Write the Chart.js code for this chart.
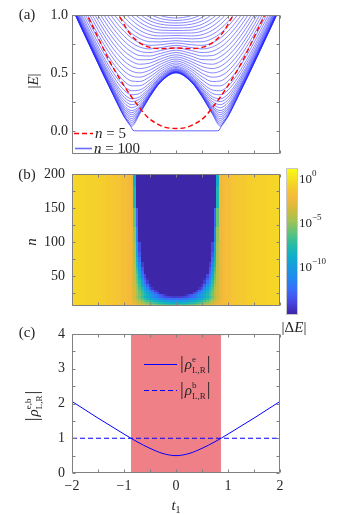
<!DOCTYPE html>
<html>
<head>
<meta charset="utf-8">
<script src="https://cdn.jsdelivr.net/npm/chart.js@4.4.1/dist/chart.umd.min.js"></script>
<style>
  body { margin: 0; background: #fff; width: 357px; height: 515px; overflow: hidden; position: relative; }
  canvas { position: absolute; }
</style>
</head>
<body>
<canvas id="chartA" width="357" height="165" style="left:0;top:0"></canvas>
<canvas id="chartB" width="357" height="160" style="left:0;top:160px"></canvas>
<canvas id="chartC" width="357" height="195" style="left:0;top:320px"></canvas>
<canvas id="chartBar" width="77" height="175" style="left:280px;top:160px"></canvas>
<script>
const SERIF = '"Liberation Serif", "DejaVu Serif", serif';
const TXT = '#262626';
const FRAME = '#808080';
const F15 = '15px ' + SERIF, I15 = 'italic 15px ' + SERIF, F9 = '9px ' + SERIF, B19 = '19px ' + SERIF;

// shared t1 axis
const t1Ticks = [-2, -1.5, -1, -0.5, 0, 0.5, 1, 1.5, 2];

// (a) spectrum |E|, curves symmetric in t1 (values for t1 >= 0)
const eTicks = [0, 0.25, 0.5, 0.75, 1];
const bandT = [0, 0.3, 0.5, 0.7, 0.85, 1.0, 1.2, 1.4, 1.6, 1.8, 2.0];
const bandE = [
  [0.501, 0.418, 0.295, 0.145, 0.041, 0.124, 0.303, 0.488, 0.678, 0.870, 1.062],
  [0.501, 0.419, 0.297, 0.150, 0.057, 0.131, 0.306, 0.490, 0.680, 0.871, 1.064],
  [0.502, 0.421, 0.299, 0.156, 0.073, 0.140, 0.310, 0.493, 0.683, 0.874, 1.066],
  [0.504, 0.422, 0.302, 0.163, 0.090, 0.150, 0.316, 0.497, 0.686, 0.877, 1.069],
  [0.506, 0.425, 0.306, 0.172, 0.106, 0.162, 0.323, 0.502, 0.690, 0.880, 1.072],
  [0.507, 0.427, 0.311, 0.181, 0.123, 0.175, 0.331, 0.508, 0.695, 0.884, 1.076],
  [0.510, 0.431, 0.316, 0.192, 0.140, 0.189, 0.340, 0.515, 0.700, 0.889, 1.080],
  [0.512, 0.434, 0.322, 0.203, 0.157, 0.204, 0.349, 0.522, 0.707, 0.894, 1.085],
  [0.515, 0.438, 0.328, 0.215, 0.175, 0.219, 0.360, 0.530, 0.713, 0.900, 1.090],
  [0.520, 0.444, 0.338, 0.234, 0.200, 0.243, 0.377, 0.544, 0.725, 0.911, 1.100],
  [0.525, 0.452, 0.350, 0.253, 0.226, 0.267, 0.396, 0.559, 0.738, 0.922, 1.110],
  [0.531, 0.460, 0.362, 0.274, 0.252, 0.292, 0.416, 0.575, 0.752, 0.934, 1.121],
  [0.537, 0.468, 0.375, 0.294, 0.277, 0.317, 0.437, 0.593, 0.767, 0.948, 1.134],
  [0.547, 0.481, 0.394, 0.323, 0.312, 0.351, 0.466, 0.618, 0.789, 0.968, 1.152],
  [0.557, 0.494, 0.414, 0.352, 0.346, 0.386, 0.497, 0.645, 0.813, 0.990, 1.173],
  [0.571, 0.513, 0.440, 0.389, 0.388, 0.429, 0.537, 0.680, 0.845, 1.019, 1.200],
  [0.586, 0.532, 0.467, 0.426, 0.430, 0.473, 0.578, 0.717, 0.879, 1.051, 1.230],
  [0.603, 0.553, 0.496, 0.463, 0.473, 0.516, 0.620, 0.756, 0.915, 1.085, 1.262],
  [0.620, 0.575, 0.525, 0.500, 0.515, 0.560, 0.662, 0.797, 0.952, 1.120, 1.296],
  [0.638, 0.597, 0.555, 0.538, 0.556, 0.604, 0.705, 0.838, 0.991, 1.157, 1.331],
  [0.656, 0.620, 0.585, 0.575, 0.598, 0.647, 0.749, 0.880, 1.032, 1.196, 1.368],
  [0.676, 0.644, 0.615, 0.613, 0.639, 0.690, 0.792, 0.922, 1.073, 1.235, 1.407],
  [0.696, 0.668, 0.646, 0.650, 0.680, 0.733, 0.836, 0.965, 1.115, 1.276, 1.446],
  [0.716, 0.693, 0.676, 0.687, 0.720, 0.776, 0.879, 1.009, 1.157, 1.317, 1.486],
  [0.737, 0.718, 0.707, 0.724, 0.760, 0.818, 0.923, 1.052, 1.200, 1.360, 1.528],
  [0.758, 0.743, 0.738, 0.760, 0.800, 0.860, 0.966, 1.096, 1.243, 1.402, 1.570],
  [0.779, 0.768, 0.769, 0.797, 0.840, 0.902, 1.009, 1.139, 1.287, 1.445, 1.612],
  [0.801, 0.794, 0.800, 0.832, 0.879, 0.943, 1.052, 1.183, 1.330, 1.489, 1.655],
  [0.823, 0.819, 0.830, 0.868, 0.917, 0.984, 1.095, 1.226, 1.374, 1.532, 1.698],
  [0.844, 0.845, 0.860, 0.903, 0.956, 1.024, 1.137, 1.270, 1.417, 1.576, 1.742],
  [0.866, 0.870, 0.891, 0.938, 0.993, 1.064, 1.179, 1.313, 1.461, 1.619, 1.785],
  [0.888, 0.895, 0.920, 0.973, 1.031, 1.103, 1.220, 1.355, 1.504, 1.663, 1.829],
  [0.910, 0.921, 0.950, 1.007, 1.067, 1.142, 1.261, 1.398, 1.547, 1.706, 1.873],
  [0.931, 0.945, 0.979, 1.040, 1.104, 1.181, 1.302, 1.439, 1.590, 1.749, 1.916],
  [0.953, 0.970, 1.008, 1.073, 1.139, 1.219, 1.342, 1.481, 1.632, 1.792, 1.960],
  [0.974, 0.995, 1.037, 1.106, 1.175, 1.256, 1.381, 1.522, 1.674, 1.835, 2.003],
  [0.996, 1.019, 1.065, 1.138, 1.209, 1.293, 1.420, 1.562, 1.715, 1.877, 2.045]
];
const edgeT = [0, 0.8, 0.83, 0.86, 0.9, 1.0, 1.2, 1.4, 1.6, 1.8, 2.0];
const edgeE = [0, 0, 0.005, 0.03, 0.065, 0.122, 0.302, 0.487, 0.677, 0.869, 1.062];
const n5OuterT = [0, 0.2, 0.4, 0.55, 0.7, 0.85, 1.0, 1.15, 1.3, 1.45, 1.6, 1.75];
const n5OuterE = [0.02, 0.03, 0.07, 0.12, 0.2, 0.29, 0.39, 0.5, 0.62, 0.76, 0.9, 1.04];
const n5InnerT = [0, 0.25, 0.5, 0.7, 0.85, 0.95, 1.05, 1.15, 1.25];
const n5InnerE = [0.715, 0.71, 0.72, 0.76, 0.82, 0.88, 0.96, 1.03, 1.1];

// (b) log10|dE| map, rows of n, columns |t1| (mirrored)
const nTicks = [25, 50, 75, 100, 125, 150, 175, 200];
const D = -15.4;
const heatN = [7, 10, 13, 16, 19, 22, 25, 28, 32, 36, 42, 45, 50, 55, 60, 67, 75, 82, 90, 110, 135, 165, 200];
const heatInnerT = [0, 0.05, 0.1, 0.15, 0.2, 0.25, 0.3, 0.35, 0.4, 0.45, 0.5, 0.55, 0.6, 0.65, 0.7, 0.75, 0.8, 0.85];
const heatOuterT = [0.9, 1.0, 1.1, 1.2, 1.3, 1.4, 1.5, 1.6, 1.7, 1.8, 1.9, 2.0];
const heatOuterLog = [-2.2, -1.8, -1.5, -1.25, -1.05, -0.9, -0.8, -0.7, -0.65, -0.6, -0.55, -0.5];
const heatRows = [
  [-7, -7, -6.9, -6.8, -6.6, -6.4, -6.2, -5.9, -5.6, -5.2, -4.8, -4.4, -3.9, -3.5, -3.1, -2.7, -2.3, -2.1],
  [-8.8, -8.8, -8.7, -8.6, -8.4, -8.1, -7.8, -7.5, -7.1, -6.6, -6.1, -5.6, -5, -4.4, -3.8, -3.2, -2.7, -2.3],
  [-10.5, -10.5, -10.4, -10.2, -10, -9.7, -9.4, -9, -8.5, -8, -7.4, -6.8, -6.1, -5.4, -4.6, -3.8, -3.1, -2.5],
  [-12.5, -12.5, -12.4, -12.2, -12, -11.7, -11.3, -10.8, -10.2, -9.6, -8.9, -8.1, -7.2, -6.3, -5.3, -4.3, -3.4, -2.6],
  [-14.5, -14.5, -14.4, -14.2, -13.9, -13.5, -13, -12.4, -11.7, -11, -10.2, -9.3, -8.3, -7.2, -6, -4.8, -3.6, -2.7],
  [D, D, D, D, -14.8, -14, -13.2, -12.4, -11.6, -10.7, -9.8, -8.8, -7.8, -6.7, -5.6, -4.4, -3.4, -2.7],
  [D, D, D, D, D, D, D, -14, -13, -11.8, -10.6, -9.4, -8.2, -7, -5.8, -4.5, -3.4, -2.7],
  [D, D, D, D, D, D, D, D, -14.5, -13, -11.5, -10, -8.7, -7.3, -6, -4.6, -3.5, -2.7],
  [D, D, D, D, D, D, D, D, D, -14.8, -13.5, -11.5, -9.8, -8, -6.5, -4.8, -3.6, -2.8],
  [D, D, D, D, D, D, D, D, D, D, -14.8, -13, -11, -9, -7, -5, -3.7, -2.8],
  [D, D, D, D, D, D, D, D, D, D, D, -14.5, -12.5, -10, -7.5, -5.5, -3.8, -2.8],
  [D, D, D, D, D, D, D, D, D, D, D, -15, -13.2, -11, -8.2, -5.8, -3.9, -2.8],
  [D, D, D, D, D, D, D, D, D, D, D, D, -14, -12, -9, -6, -4, -2.8],
  [D, D, D, D, D, D, D, D, D, D, D, D, D, -12.8, -9.8, -6.5, -4, -2.8],
  [D, D, D, D, D, D, D, D, D, D, D, D, D, -13.5, -10.5, -7, -4, -2.8],
  [D, D, D, D, D, D, D, D, D, D, D, D, D, -14.5, -11.5, -7.8, -4.1, -2.75],
  [D, D, D, D, D, D, D, D, D, D, D, D, D, D, -12.5, -8.5, -4.2, -2.7],
  [D, D, D, D, D, D, D, D, D, D, D, D, D, D, -13.3, -9.3, -4.3, -2.7],
  [D, D, D, D, D, D, D, D, D, D, D, D, D, D, -14, -10, -4.5, -2.7],
  [D, D, D, D, D, D, D, D, D, D, D, D, D, D, D, -11.5, -5, -2.6],
  [D, D, D, D, D, D, D, D, D, D, D, D, D, D, D, -13, -6, -2.6],
  [D, D, D, D, D, D, D, D, D, D, D, D, D, D, D, D, -8, -2.6],
  [D, D, D, D, D, D, D, D, D, D, D, D, D, D, D, D, -9, -2.6]
];
const cbarMin = -15.4, cbarMax = 1.1;
const cbarTicks = [0, -5, -10];
const cbarExp = ['0', '\u22125', '\u221210'];
// parula-like colormap stops [position, r, g, b]
const cmapStops = [
  [0.00, 62, 38, 168], [0.08, 70, 70, 225], [0.16, 60, 105, 250], [0.24, 35, 135, 240],
  [0.32, 25, 155, 225], [0.40, 15, 175, 200], [0.48, 40, 188, 165], [0.56, 95, 195, 125],
  [0.64, 160, 195, 85], [0.72, 210, 187, 60], [0.80, 245, 185, 60], [0.88, 245, 205, 45],
  [1.00, 249, 251, 20]
];

// (c) coupling ratios
const rhoTicks = [0, 0.5, 1, 1.5, 2, 2.5, 3, 3.5, 4];
const rhoT = [0, 0.25, 0.5, 0.75, 1.0, 1.25, 1.5, 1.75, 2.0];
const rhoE = [0.5, 0.56, 0.71, 0.90, 1.12, 1.35, 1.58, 1.82, 2.06];
const rhoBT = [-2, 2];
const rhoBV = [1, 1];
const topoT = [-0.866, 0.866];
const topoTop = 4;

Chart.defaults.font.family = SERIF;
Chart.defaults.color = TXT;

function mirror(ts, vs) {
  const pts = [];
  for (let i = ts.length - 1; i >= 0; i--) if (ts[i] !== 0) pts.push({ x: -ts[i], y: vs[i] });
  ts.forEach((t, i) => pts.push({ x: t, y: vs[i] }));
  return pts;
}
const minus = v => (v < 0 ? '\u2212' + Math.abs(v) : String(v));

function parula(v) {
  let f = (v - cbarMin) / (cbarMax - cbarMin);
  f = Math.max(0, Math.min(1, f));
  for (let i = 1; i < cmapStops.length; i++) {
    const a = cmapStops[i - 1], b = cmapStops[i];
    if (f <= b[0]) {
      const u = (f - a[0]) / (b[0] - a[0]);
      return 'rgb(' + [1, 2, 3].map(k => Math.round(a[k] + u * (b[k] - a[k]))).join(',') + ')';
    }
  }
  return 'rgb(249,251,20)';
}

function drawRich(ctx, parts, x, y, opt = {}) {
  ctx.save();
  ctx.translate(x, y);
  if (opt.rot) ctx.rotate(opt.rot);
  const ws = parts.map(p => {
    ctx.font = p.f;
    if (p.sup !== undefined) return Math.max(ctx.measureText(p.sup).width, ctx.measureText(p.sub).width) + 1;
    return ctx.measureText(p.t).width + (p.gap || 0);
  });
  const total = ws.reduce((s, w) => s + w, 0);
  let cx = opt.align === 'left' ? 0 : -total / 2;
  ctx.fillStyle = TXT;
  ctx.textAlign = 'left';
  ctx.textBaseline = 'alphabetic';
  parts.forEach((p, i) => {
    ctx.font = p.f;
    if (p.sup !== undefined) {
      ctx.fillText(p.sup, cx, -2);
      ctx.fillText(p.sub, cx, 9);
    } else {
      ctx.fillText(p.t, cx, 5 + (p.dy || 0));
    }
    cx += ws[i];
  });
  ctx.restore();
}

// frame box with inward ticks on all four sides
const frameTicks = {
  id: 'frameTicks',
  afterDatasetsDraw(chart) {
    const { ctx, chartArea: a, scales: { x, y } } = chart;
    const L = a.left + 0.5, R = a.right - 0.5, T = a.top + 0.5, B = a.bottom - 0.5;
    ctx.save();
    ctx.strokeStyle = FRAME;
    ctx.lineWidth = 1;
    ctx.beginPath();
    x.ticks.forEach(t => {
      const p = Math.round(x.getPixelForValue(t.value)) + 0.5;
      ctx.moveTo(p, B); ctx.lineTo(p, B - 3);
      ctx.moveTo(p, T); ctx.lineTo(p, T + 3);
    });
    y.ticks.forEach(t => {
      const p = Math.round(y.getPixelForValue(t.value)) + 0.5;
      ctx.moveTo(L, p); ctx.lineTo(L + 3, p);
      ctx.moveTo(R, p); ctx.lineTo(R - 3, p);
    });
    ctx.rect(L, T, R - L, B - T);
    ctx.stroke();
    ctx.restore();
  }
};

function axisX(show, height, pad) {
  return {
    type: 'linear', min: -2, max: 2,
    grid: { display: false, drawTicks: false }, border: { display: false },
    ticks: { display: show, padding: pad || 0, autoSkip: false, maxRotation: 0, font: { size: 14, lineHeight: 1 },
      callback: v => (Number.isInteger(v) ? minus(v) : '') },
    afterBuildTicks: s => { s.ticks = t1Ticks.map(v => ({ value: v })); },
    afterFit: s => { s.height = height; }
  };
}
function axisY(min, max, ticks, label, pad) {
  return {
    type: 'linear', min: min, max: max,
    grid: { display: false, drawTicks: false }, border: { display: false },
    ticks: { padding: pad, autoSkip: false, font: { size: 14, lineHeight: 1 }, callback: label },
    afterBuildTicks: s => { s.ticks = ticks.map(v => ({ value: v })); },
    afterFit: s => { s.width = 72; }
  };
}
const baseOpts = (padTop) => ({
  responsive: false, animation: false, events: [],
  layout: { padding: { left: 0, right: 77, top: padTop, bottom: 0 } },
  plugins: { legend: { display: false }, tooltip: { enabled: false } },
  elements: { point: { radius: 0 } }
});

// ---------- (a) ----------
const dsA = [];
dsA.push({ data: mirror(n5InnerT, n5InnerE), borderColor: '#ff0000', borderWidth: 1.4, borderDash: [5, 3], cubicInterpolationMode: 'monotone', clip: 0 });
dsA.push({ data: mirror(n5OuterT, n5OuterE), borderColor: '#ff0000', borderWidth: 1.4, borderDash: [5, 3], cubicInterpolationMode: 'monotone', clip: 0 });
dsA.push({ data: mirror(edgeT, edgeE), borderColor: 'rgba(40,40,255,0.9)', borderWidth: 0.8, tension: 0, clip: 0 });
bandE.forEach(row => dsA.push({ data: mirror(bandT, row), borderColor: 'rgba(40,40,255,0.8)', borderWidth: 0.7, cubicInterpolationMode: 'monotone', clip: 0 }));

const labelsA = {
  id: 'labelsA',
  afterDraw(chart) {
    const ctx = chart.ctx, a = chart.chartArea;
    drawRich(ctx, [{ t: '(a)', f: F15 }], 27, 14);
    drawRich(ctx, [{ t: '|', f: F15 }, { t: 'E', f: I15 }, { t: '|', f: F15 }], 33, 81, { rot: -Math.PI / 2 });
    ctx.save();
    ctx.strokeStyle = '#ff0000'; ctx.lineWidth = 1.4; ctx.setLineDash([5, 3]);
    ctx.beginPath(); ctx.moveTo(a.left + 2, 133.5); ctx.lineTo(a.left + 21, 133.5); ctx.stroke();
    ctx.setLineDash([]); ctx.strokeStyle = 'rgba(70,70,255,0.8)'; ctx.lineWidth = 1.6;
    ctx.beginPath(); ctx.moveTo(a.left + 3, 148.5); ctx.lineTo(a.left + 20, 148.5); ctx.stroke();
    ctx.restore();
    drawRich(ctx, [{ t: 'n', f: I15 }, { t: ' = 5', f: F15 }], a.left + 23, 133, { align: 'left' });
    drawRich(ctx, [{ t: 'n', f: I15 }, { t: ' = 100', f: F15 }], a.left + 22, 148, { align: 'left' });
  }
};

new Chart(document.getElementById('chartA'), {
  type: 'line',
  data: { datasets: dsA },
  options: Object.assign(baseOpts(15), {
    scales: {
      x: axisX(false, 8),
      y: axisY(-0.2, 1, eTicks, v => (Math.abs(v * 2 - Math.round(v * 2)) < 1e-9 ? v.toFixed(1) : ''), 4)
    }
  }),
  plugins: [frameTicks, labelsA]
});

// ---------- (b) ----------
const heatPlugin = {
  id: 'heat',
  beforeDatasetsDraw(chart) {
    const { ctx, scales: { x, y } } = chart;
    const halfT = heatInnerT.concat(heatOuterT);
    const cols = [];
    for (let i = halfT.length - 1; i >= 1; i--) cols.push({ t: -halfT[i], k: i });
    halfT.forEach((t, i) => cols.push({ t: t, k: i }));
    const xEdge = cols.map((c, i) => (i === 0 ? -2 : (cols[i - 1].t + c.t) / 2));
    xEdge.push(2);
    const yEdge = heatN.map((n, i) => (i === 0 ? 6 : (heatN[i - 1] + n) / 2));
    yEdge.push(200);
    ctx.save();
    heatRows.forEach((row, r) => {
      const vals = row.concat(heatOuterLog);
      const y0 = Math.round(y.getPixelForValue(yEdge[r + 1]));
      const y1 = Math.round(y.getPixelForValue(yEdge[r]));
      cols.forEach((c, i) => {
        const x0 = Math.round(x.getPixelForValue(xEdge[i]));
        const x1 = Math.round(x.getPixelForValue(xEdge[i + 1]));
        ctx.fillStyle = parula(vals[c.k]);
        ctx.fillRect(x0, y0, x1 - x0, y1 - y0);
      });
    });
    ctx.restore();
  },
  afterDraw(chart) {
    const ctx = chart.ctx;
    drawRich(ctx, [{ t: '(b)', f: F15 }], 27, 14);
    drawRich(ctx, [{ t: 'n', f: I15 }], 31, 82, { rot: -Math.PI / 2 });
  }
};

new Chart(document.getElementById('chartB'), {
  type: 'scatter',
  data: { datasets: [{ data: [] }] },
  options: Object.assign(baseOpts(10), {
    scales: {
      x: axisX(false, 6),
      y: axisY(6, 200, nTicks, v => (v % 50 === 0 ? String(v) : ''), 7)
    }
  }),
  plugins: [heatPlugin, frameTicks]
});

// ---------- colorbar ----------
const cbarPlugin = {
  id: 'cbar',
  beforeDatasetsDraw(chart) {
    const { ctx, chartArea: a, scales: { y } } = chart;
    ctx.save();
    for (let py = a.top; py < a.bottom; py++) {
      ctx.fillStyle = parula(y.getValueForPixel(py + 0.5));
      ctx.fillRect(a.left, py, a.right - a.left, 1);
    }
    ctx.strokeStyle = '#c8c8c8';
    ctx.lineWidth = 1;
    ctx.strokeRect(a.left - 0.5, a.top - 0.5, a.right - a.left + 1, a.bottom - a.top + 1);
    ctx.restore();
    cbarTicks.forEach((v, i) => {
      drawRich(ctx, [{ t: '10', f: '13px ' + SERIF }, { t: cbarExp[i], f: F9, dy: -7 }], a.right + 2, y.getPixelForValue(v) - 0.5, { align: 'left' });
    });
    drawRich(ctx, [{ t: '|', f: F15 }, { t: '\u0394', f: F15 }, { t: 'E', f: I15 }, { t: '|', f: F15 }], 14, 167);
  }
};

new Chart(document.getElementById('chartBar'), {
  type: 'scatter',
  data: { datasets: [{ data: [] }] },
  options: {
    responsive: false, animation: false, events: [],
    layout: { padding: { left: 7, right: 60, top: 9, bottom: 21 } },
    plugins: { legend: { display: false }, tooltip: { enabled: false } },
    scales: { x: { display: false, min: 0, max: 1 }, y: { display: false, min: cbarMin, max: cbarMax } }
  },
  plugins: [cbarPlugin]
});

// ---------- (c) ----------
const labelsC = {
  id: 'labelsC',
  afterDraw(chart) {
    const ctx = chart.ctx;
    drawRich(ctx, [{ t: '(c)', f: F15 }], 27, 12);
    drawRich(ctx, [{ t: '|', f: B19, gap: 1 }, { t: '\u03c1', f: I15 }, { sup: 'e,b', sub: 'L,R', f: F9 }, { t: '|', f: B19 }], 33, 86, { rot: -Math.PI / 2 });
    drawRich(ctx, [{ t: 't', f: I15 }, { t: '1', f: '10px ' + SERIF, dy: 3 }], 176, 185);
    // legend
    ctx.save();
    ctx.strokeStyle = '#0000ff'; ctx.lineWidth = 1;
    ctx.beginPath(); ctx.moveTo(144, 44.5); ctx.lineTo(177, 44.5); ctx.stroke();
    ctx.setLineDash([5, 3]);
    ctx.beginPath(); ctx.moveTo(144, 70.5); ctx.lineTo(177, 70.5); ctx.stroke();
    ctx.restore();
    drawRich(ctx, [{ t: '|', f: B19, gap: 1 }, { t: '\u03c1', f: I15 }, { sup: 'e', sub: 'L,R', f: F9 }, { t: '|', f: B19 }], 180, 44, { align: 'left' });
    drawRich(ctx, [{ t: '|', f: B19, gap: 1 }, { t: '\u03c1', f: I15 }, { sup: 'b', sub: 'L,R', f: F9 }, { t: '|', f: B19 }], 180, 70, { align: 'left' });
  }
};

new Chart(document.getElementById('chartC'), {
  type: 'line',
  data: {
    datasets: [
      { data: mirror(rhoT, rhoE), borderColor: '#0000ff', borderWidth: 1, cubicInterpolationMode: 'monotone', clip: 0 },
      { data: rhoBT.map((t, i) => ({ x: t, y: rhoBV[i] })), borderColor: '#0000ff', borderWidth: 1, borderDash: [5, 3], clip: 0 },
      { data: topoT.map(t => ({ x: t, y: topoTop })), borderWidth: 0, fill: 'origin', backgroundColor: 'rgb(240,128,135)', clip: 0 }
    ]
  },
  options: Object.assign(baseOpts(7), {
    scales: {
      x: axisX(true, 42, 6),
      y: axisY(0, 4, rhoTicks, v => (Number.isInteger(v) ? String(v) : ''), 7)
    }
  }),
  plugins: [frameTicks, labelsC]
});
</script>
</body>
</html>
